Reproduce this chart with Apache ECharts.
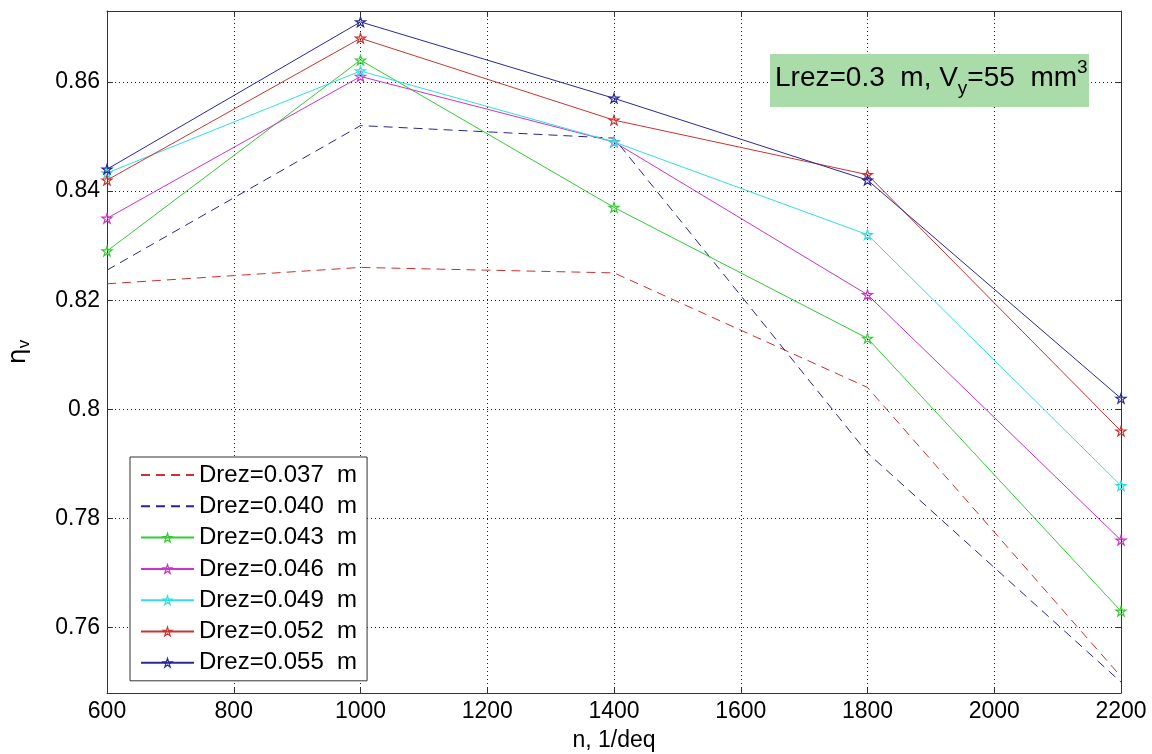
<!DOCTYPE html>
<html>
<head>
<meta charset="utf-8">
<script src="https://cdn.jsdelivr.net/npm/echarts@6/dist/echarts.min.js"></script>
<style>html,body{margin:0;padding:0;background:#fff}#c{width:1152px;height:754px}</style>
</head>
<body>
<div id="c"></div>
<script>
const nValues = [600, 1000, 1400, 1800, 2200];
const d037 = [0.823, 0.826, 0.825, 0.804, 0.751];
const d040 = [0.8255, 0.852, 0.8497, 0.792, 0.750];
const d043 = [0.829, 0.864, 0.837, 0.813, 0.763];
const d046 = [0.835, 0.861, 0.849, 0.821, 0.776];
const d049 = [0.8433, 0.862, 0.849, 0.832, 0.786];
const d052 = [0.842, 0.868, 0.853, 0.843, 0.796];
const d055 = [0.844, 0.871, 0.857, 0.842, 0.802];
const seriesNames = ['Drez=0.037  m','Drez=0.040  m','Drez=0.043  m','Drez=0.046  m','Drez=0.049  m','Drez=0.052  m','Drez=0.055  m'];
const yTicks = [0.76, 0.78, 0.80, 0.82, 0.84, 0.86];
const xTicks = [600, 800, 1000, 1200, 1400, 1600, 1800, 2000, 2200];

const allData = [d037, d040, d043, d046, d049, d052, d055];
const colors = ['#cc3030', '#262690', '#33cc33', '#cc33cc', '#33dede', '#c83434', '#28289a'];
const dashed = [true, true, false, false, false, false, false];
const star = 'path://M0,-100 L22.45,-30.9 L95.1,-30.9 L36.3,11.8 L58.8,80.9 L0,38.2 L-58.8,80.9 L-36.3,11.8 L-95.1,-30.9 L-22.45,-30.9 Z';
const FONT = '"Liberation Sans", Arial, Helvetica, sans-serif';

const chart = echarts.init(document.getElementById('c'), null, {renderer: 'canvas'});

const series = allData.map((arr, i) => ({
  name: seriesNames[i],
  type: 'line',
  data: nValues.map((x, j) => [x, arr[j]]),
  symbol: dashed[i] ? 'none' : star,
  symbolSize: 10,
  symbolKeepAspect: true,
  showSymbol: !dashed[i],
  animation: false,
  itemStyle: {color: 'rgba(255,255,255,0)', borderColor: colors[i], borderWidth: 1.2},
  lineStyle: {color: colors[i], width: 1, type: dashed[i] ? [9, 6] : 'solid'},
  color: colors[i],
  emphasis: {disabled: true},
  z: 3 + i
}));

const gridLine = {show: true, lineStyle: {color: '#222', width: 1, type: [1, 3]}};

chart.setOption({
  animation: false,
  backgroundColor: '#fff',
  grid: {left: 107, right: 31, top: 11, bottom: 61, show: false, containLabel: false, outerBoundsMode: 'none'},
  xAxis: [{
    type: 'value', min: 600, max: 2200, interval: 200, position: 'bottom',
    name: 'n, 1/deq', nameLocation: 'middle', nameGap: 36,
    nameTextStyle: {fontFamily: FONT, fontSize: 23, color: '#000'},
    axisLine: {show: true, onZero: false, lineStyle: {color: '#333', width: 1}},
    axisTick: {show: true, inside: true, length: 6, lineStyle: {color: '#333'}},
    axisLabel: {fontFamily: FONT, fontSize: 23, color: '#000', margin: 7, formatter: v => String(v)},
    splitLine: gridLine
  }, {
    type: 'value', min: 600, max: 2200, interval: 200, position: 'top',
    axisLine: {show: true, onZero: false, lineStyle: {color: '#333', width: 1}},
    axisTick: {show: true, inside: true, length: 6, lineStyle: {color: '#333'}},
    axisLabel: {show: false}, splitLine: {show: false}
  }],
  yAxis: [{
    type: 'value', min: 0.748, max: 0.873, position: 'left',
    name: '{a|η}{s|v}', nameLocation: 'middle', nameGap: 74, nameRotate: 90,
    nameTextStyle: {rich: {
      a: {fontFamily: '"DejaVu Sans", sans-serif', fontSize: 25, color: '#000', lineHeight: 30, verticalAlign: 'middle'},
      s: {fontFamily: FONT, fontSize: 17, color: '#000', lineHeight: 30, verticalAlign: 'bottom'}
    }},
    axisLine: {show: true, onZero: false, lineStyle: {color: '#333', width: 1}},
    axisTick: {show: true, inside: true, length: 6, lineStyle: {color: '#333'}, customValues: yTicks},
    axisLabel: {fontFamily: FONT, fontSize: 23, color: '#000', margin: 7, customValues: yTicks,
      formatter: v => String(+v.toFixed(2))},
    splitLine: gridLine
  }, {
    type: 'value', min: 0.748, max: 0.873, position: 'right',
    axisLine: {show: true, onZero: false, lineStyle: {color: '#333', width: 1}},
    axisTick: {show: true, inside: true, length: 6, lineStyle: {color: '#333'}, customValues: yTicks},
    axisLabel: {show: false, customValues: yTicks}, splitLine: {show: false}
  }],
  legend: {
    orient: 'vertical', left: 130, top: 457,
    backgroundColor: '#fff', borderColor: '#333', borderWidth: 1,
    padding: [6, 10, 6, 10],
    itemWidth: 53, itemHeight: 11, itemGap: 7.3,
    textStyle: {fontFamily: FONT, fontSize: 24, color: '#000', lineHeight: 24},
    itemStyle: {color: 'rgba(255,255,255,0)', borderColor: 'inherit', borderWidth: 1.2},
    data: seriesNames.map((nm, i) => dashed[i]
      ? {name: nm, itemStyle: {borderWidth: 0, borderColor: 'rgba(0,0,0,0)', color: 'rgba(0,0,0,0)'}}
      : {name: nm})
  },
  series: series,
  graphic: [{
    type: 'rect', left: 770, top: 54, z: 100,
    shape: {width: 319, height: 53},
    style: {fill: '#a9dca9'}
  }, {
    type: 'text', left: 775, top: 58, z: 101,
    style: {
      text: '{m|Lrez=0.3  m, V}{s|y}{m|=55  mm}{p|3}',
      rich: {
        m: {fontFamily: FONT, fontSize: 28, color: '#000', lineHeight: 40, verticalAlign: 'middle'},
        s: {fontFamily: FONT, fontSize: 19, color: '#000', lineHeight: 40, verticalAlign: 'bottom'},
        p: {fontFamily: FONT, fontSize: 19, color: '#000', lineHeight: 40, verticalAlign: 'top'}
      }
    }
  }]
});
</script>
</body>
</html>
